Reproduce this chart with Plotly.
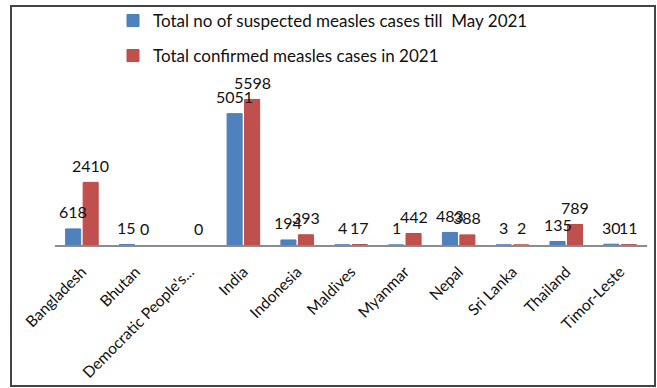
import plotly.graph_objects as go

countries = ["Bangladesh", "Bhutan", "Democratic People's...", "India", "Indonesia",
             "Maldives", "Myanmar", "Nepal", "Sri Lanka", "Thailand", "Timor-Leste"]
suspected = [618, 15, None, 5051, 194, 4, 1, 483, 3, 135, 30]
confirmed = [2410, 0, 0, 5598, 393, 17, 442, 388, 2, 789, 11]
series_names = ["Total no of suspected measles cases till\u00a0 May 2021",
                "Total confirmed measles cases in 2021"]
colors = ["#4F81BD", "#C0504D"]
edge_colors = ["#4A7EBB", "#BE4B48"]

W, H = 657, 388
L, R, T, B = 55, 10, 89, 143
PW, PH = W - L - R, H - T - B
FONT = "Lato, Liberation Sans, sans-serif"
TXT = "#111111"


def px_x(X):
    return (X - L) / PW


def px_y(Y):
    return (H - B - Y) / PH


fig = go.Figure()
for vals, name, col, edge, lg in ((suspected, series_names[0], colors[0], edge_colors[0], "legend"),
                                   (confirmed, series_names[1], colors[1], edge_colors[1], "legend2")):
    fig.add_trace(go.Bar(
        x=countries, y=vals, name=name,
        marker=dict(color=col, line=dict(color=edge, width=[1 if v else 0 for v in vals])),
        legend=lg, showlegend=True))

bargap, bargroupgap = 0.35, 0.14
slot = PW / len(countries) * (1 - bargap) / 2
annotations = []
for vals, sh in ((suspected, -slot / 2), (confirmed, slot / 2)):
    for c, v in zip(countries, vals):
        if v is None:
            continue
        annotations.append(dict(x=c, y=v, text=str(v), showarrow=False,
                                xshift=sh, yshift=17, yanchor="middle",
                                font=dict(family=FONT, size=16, color=TXT)))

legend_common = dict(orientation="v", xanchor="left", yanchor="middle",
                     bgcolor="rgba(0,0,0,0)", borderwidth=0, visible=True,
                     font=dict(family=FONT, size=17, color=TXT))

fig.update_layout(
    width=W, height=H,
    margin=dict(l=L, r=R, t=T, b=B, autoexpand=False),
    paper_bgcolor="white", plot_bgcolor="white",
    showlegend=True,
    barmode="group", bargap=bargap, bargroupgap=bargroupgap,
    font=dict(family=FONT, color=TXT),
    xaxis=dict(showline=True, linecolor="#8c8c8c", linewidth=1.5, automargin=False,
               ticks="", tickangle=-45, showgrid=False, ticklabelstandoff=10,
               tickfont=dict(family=FONT, size=15.5, color=TXT)),
    yaxis=dict(range=[0, 6000], visible=False, showgrid=False, automargin=False),
    legend=dict(x=px_x(113), y=px_y(21), **legend_common),
    legend2=dict(x=px_x(113), y=px_y(56), **legend_common),
    annotations=annotations,
    shapes=[dict(type="rect", xref="paper", yref="paper",
                 x0=px_x(11), x1=px_x(655), y0=px_y(386), y1=px_y(6),
                 line=dict(color="#444444", width=2), fillcolor="rgba(0,0,0,0)",
                 layer="below")],
)

fig.write_html("out.html")
